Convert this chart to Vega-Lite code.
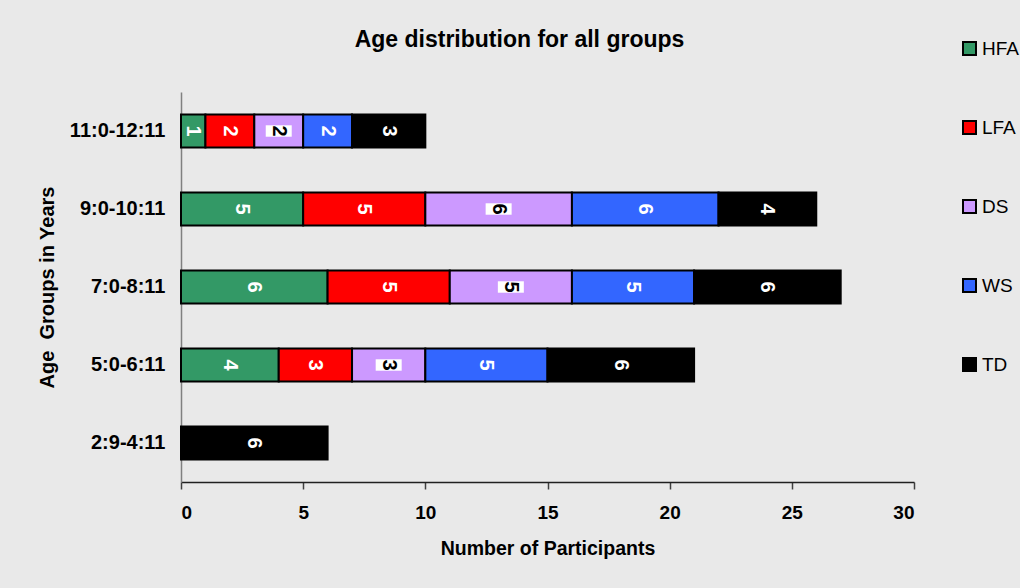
{
  "$schema": "https://vega.github.io/schema/vega-lite/v6.json",
  "autosize": {"type": "none"},
  "padding": {"left": 181, "top": 92, "right": 106, "bottom": 106},
  "width": 733,
  "height": 390,
  "background": "#e9e9e9",
  "title": {
    "text": "Age distribution for all groups",
    "font": "Liberation Sans",
    "fontSize": 23,
    "fontWeight": "bold",
    "color": "#000000",
    "anchor": "middle",
    "dx": -28,
    "offset": -13
  },
  "data": {
    "values": [
      {"age": "11:0-12:11", "g": "HFA", "k": 1, "n": 1},
      {"age": "11:0-12:11", "g": "LFA", "k": 2, "n": 2},
      {"age": "11:0-12:11", "g": "DS", "k": 3, "n": 2},
      {"age": "11:0-12:11", "g": "WS", "k": 4, "n": 2},
      {"age": "11:0-12:11", "g": "TD", "k": 5, "n": 3},
      {"age": "9:0-10:11", "g": "HFA", "k": 1, "n": 5},
      {"age": "9:0-10:11", "g": "LFA", "k": 2, "n": 5},
      {"age": "9:0-10:11", "g": "DS", "k": 3, "n": 6},
      {"age": "9:0-10:11", "g": "WS", "k": 4, "n": 6},
      {"age": "9:0-10:11", "g": "TD", "k": 5, "n": 4},
      {"age": "7:0-8:11", "g": "HFA", "k": 1, "n": 6},
      {"age": "7:0-8:11", "g": "LFA", "k": 2, "n": 5},
      {"age": "7:0-8:11", "g": "DS", "k": 3, "n": 5},
      {"age": "7:0-8:11", "g": "WS", "k": 4, "n": 5},
      {"age": "7:0-8:11", "g": "TD", "k": 5, "n": 6},
      {"age": "5:0-6:11", "g": "HFA", "k": 1, "n": 4},
      {"age": "5:0-6:11", "g": "LFA", "k": 2, "n": 3},
      {"age": "5:0-6:11", "g": "DS", "k": 3, "n": 3},
      {"age": "5:0-6:11", "g": "WS", "k": 4, "n": 5},
      {"age": "5:0-6:11", "g": "TD", "k": 5, "n": 6},
      {"age": "2:9-4:11", "g": "TD", "k": 5, "n": 6}
    ]
  },
  "encoding": {
    "y": {
      "field": "age",
      "type": "nominal",
      "sort": ["11:0-12:11", "9:0-10:11", "7:0-8:11", "5:0-6:11", "2:9-4:11"],
      "scale": {"paddingInner": 0.58, "paddingOuter": 0.29},
      "axis": {
        "title": "Age\u00a0 Groups in Years",
        "titleFont": "Liberation Sans",
        "titleFontSize": 20,
        "titleFontWeight": "bold",
        "titleColor": "#000000",
        "titlePadding": 12,
        "labelFont": "Liberation Sans",
        "labelFontSize": 20,
        "labelFontWeight": "bold",
        "labelColor": "#000000",
        "labelPadding": 16,
        "ticks": false,
        "tickSize": 0,
        "domainColor": "#808080",
        "domainWidth": 1.5
      }
    }
  },
  "layer": [
    {
      "mark": {"type": "bar", "stroke": "#000000", "strokeWidth": 2},
      "encoding": {
        "x": {
          "field": "n",
          "type": "quantitative",
          "stack": "zero",
          "scale": {"domain": [0, 30], "nice": false},
          "axis": {
            "title": "Number of Participants",
            "values": [0, 5, 10, 15, 20, 25, 30],
            "grid": false,
            "titleFont": "Liberation Sans",
            "titleFontSize": 19.5,
            "titleFontWeight": "bold",
            "titleColor": "#000000",
            "titlePadding": 17,
            "labelFont": "Liberation Sans",
            "labelFontSize": 19,
            "labelFontWeight": "bold",
            "labelColor": "#000000",
            "labelPadding": 14,
            "tickSize": 7,
            "tickColor": "#404040",
            "tickWidth": 1.5,
            "domainColor": "#202020",
            "domainWidth": 1.5
          }
        },
        "color": {
          "field": "g",
          "type": "nominal",
          "scale": {
            "domain": ["HFA", "LFA", "DS", "WS", "TD"],
            "range": ["#339966", "#ff0000", "#cc99ff", "#3366ff", "#000000"]
          },
          "legend": {
            "title": null,
            "orient": "none",
            "legendX": 779,
            "legendY": -53,
            "padding": 0,
            "symbolType": "square",
            "symbolSize": 169,
            "symbolStrokeColor": "#000000",
            "symbolStrokeWidth": 2,
            "labelFont": "Liberation Sans",
            "labelFontSize": 19,
            "labelColor": "#000000",
            "labelOffset": 3,
            "rowPadding": 58
          }
        },
        "order": {"field": "k", "type": "quantitative"}
      }
    },
    {
      "mark": {"type": "point", "shape": "M-1,-0.44L1,-0.44L1,0.44L-1,0.44Z", "size": 676, "filled": true, "opacity": 1, "strokeWidth": 0},
      "encoding": {
        "x": {"field": "n", "type": "quantitative", "stack": "zero", "bandPosition": 0.5},
        "detail": {"field": "g"},
        "order": {"field": "k", "type": "quantitative"},
        "color": {"condition": {"test": "datum.g === 'DS'", "value": "#ffffff"}, "value": "transparent"}
      }
    },
    {
      "mark": {"type": "text", "angle": 90, "align": "center", "baseline": "middle", "font": "Liberation Sans", "fontSize": 20, "fontWeight": "bold"},
      "encoding": {
        "x": {"field": "n", "type": "quantitative", "stack": "zero", "bandPosition": 0.5},
        "detail": {"field": "g"},
        "order": {"field": "k", "type": "quantitative"},
        "text": {"field": "n", "type": "quantitative"},
        "color": {"condition": {"test": "datum.g === 'DS'", "value": "#000000"}, "value": "#ffffff"}
      }
    }
  ],
  "config": {
    "view": {"stroke": null},
    "axis": {"grid": false}
  }
}
